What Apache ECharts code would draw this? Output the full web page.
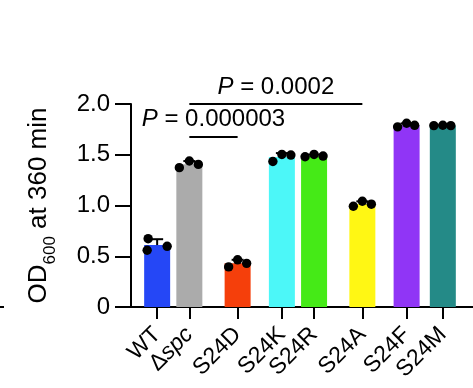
<!DOCTYPE html>
<html><head><meta charset="utf-8">
<script src="https://cdn.jsdelivr.net/npm/echarts@6/dist/echarts.min.js"></script>
<style>html,body{margin:0;padding:0;background:#fff}#c{width:473px;height:388px}</style>
</head><body><div id="c"></div>
<script>
// ---- data ----
const categories = ['WT', 'Δspc', 'S24D', 'S24K', 'S24R', 'S24A', 'S24F', 'S24M'];
const rep1 = [0.673, 1.373, 0.395, 1.434, 1.480, 0.993, 1.775, 1.787];
const rep2 = [0.559, 1.438, 0.465, 1.503, 1.503, 1.042, 1.810, 1.791];
const rep3 = [0.598, 1.405, 0.430, 1.497, 1.487, 1.013, 1.790, 1.787];
const yTicks = [0, 0.5, 1.0, 1.5, 2.0];
const compFrom = ['Δspc', 'Δspc'];
const compTo = ['S24A', 'S24D'];
const compY = [2.0, 1.68];
const compP = ['0.0002', '0.000003'];

// ---- styles / layout ----
const barColors = ['#2547F6', '#ABABAB', '#F53F0B', '#4CF7F8', '#45EA17', '#FFF714', '#9035F6', '#248A87'];
const SLOT_COUNT = 85;
const SLOTS = [6, 14, 26, 37, 45, 57, 68, 77];
const DOT_DX = [[-9, -10, 10], [-10, 0, 9], [-9, 0, 9], [-9, 0, 9], [-9, 0, 9], [-9, 0, 9], [-9, 0, 8], [-9, 0, 8]];
const FONT = 'Liberation Sans, Arial, Helvetica, sans-serif';

const reps = categories.map((_, i) => [rep1[i], rep2[i], rep3[i]]);
const means = reps.map(r => r.reduce((a, b) => a + b, 0) / r.length);
const sds = reps.map((r, i) => Math.sqrt(r.reduce((a, b) => a + (b - means[i]) ** 2, 0) / (r.length - 1)));

const slotNames = [];
for (let k = 0; k < SLOT_COUNT; k++) slotNames.push('gap' + k);
SLOTS.forEach((s, i) => { slotNames[s] = categories[i]; });
const isReal = new Set(categories);
const evenSet = new Set(categories.filter((_, i) => i % 2 === 0));
const oddSet = new Set(categories.filter((_, i) => i % 2 === 1));

const barData = slotNames.map(() => '-');
SLOTS.forEach((s, i) => { barData[s] = { value: means[i], itemStyle: { color: barColors[i] } }; });

const customData = categories.map((_, i) => [SLOTS[i], means[i], sds[i], rep1[i], rep2[i], rep3[i]]);

function labelCfg(set) {
  return {
    show: true,
    interval: (idx, val) => set.has(val),
    hideOverlap: false, showMinLabel: true, showMaxLabel: true,
    rotate: 45, margin: 24, color: '#000', fontSize: 23, fontFamily: FONT,
    formatter: v => !set.has(v) ? '' : (v === 'Δspc' ? 'Δ{i|spc}' : v),
    rich: { i: { fontStyle: 'italic', fontSize: 23, color: '#000', fontFamily: FONT } }
  };
}

const chart = echarts.init(document.getElementById('c'), null, { renderer: 'canvas' });
chart.setOption({
  animation: false,
  backgroundColor: '#fff',
  textStyle: { fontFamily: FONT },
  grid: { left: 131, right: 0, top: 104, bottom: 81, outerBoundsMode: 'none', containLabel: false },
  xAxis: [
    {
      type: 'category', position: 'bottom',
      data: slotNames,
      boundaryGap: true,
      axisLine: { lineStyle: { color: '#000', width: 2 } },
      axisTick: { show: true, length: 12, alignWithLabel: true, lineStyle: { color: '#000', width: 2 },
        interval: (idx, val) => isReal.has(val) },
      axisLabel: labelCfg(evenSet),
      splitLine: { show: false }
    },
    {
      type: 'category', position: 'bottom', offset: 0,
      data: slotNames,
      boundaryGap: true,
      axisLine: { show: false },
      axisTick: { show: false },
      axisLabel: labelCfg(oddSet),
      splitLine: { show: false }
    }
  ],
  yAxis: {
    type: 'value',
    min: yTicks[0], max: yTicks[yTicks.length - 1], interval: yTicks[1] - yTicks[0],
    axisLine: { show: true, lineStyle: { color: '#000', width: 2 } },
    axisTick: { show: true, length: 16, lineStyle: { color: '#000', width: 2 } },
    axisLabel: { margin: 21, color: '#000', fontSize: 24, fontFamily: FONT, hideOverlap: false,
      formatter: v => v === 0 ? '0' : v.toFixed(1) },
    splitLine: { show: false },
    name: '{a|OD}{s|600}{a| at 360 min}',
    nameLocation: 'middle', nameRotate: 90, nameGap: 72,
    nameTextStyle: {
      rich: {
        a: { fontSize: 26, color: '#000', fontFamily: FONT, verticalAlign: 'bottom', padding: [0, 0, 7, 0] },
        s: { fontSize: 17, color: '#000', fontFamily: FONT, verticalAlign: 'bottom' }
      }
    }
  },
  graphic: [{ type: 'rect', shape: { x: 0, y: 306, width: 4, height: 2 }, style: { fill: '#000' } }],
  series: [
    {
      type: 'bar', data: barData, barWidth: 26, xAxisIndex: 0,
      markLine: {
        silent: true, symbol: 'none', animation: false,
        lineStyle: { color: '#000', width: 2, type: 'solid' },
        label: { show: true, position: 'middle', distance: 5, color: '#000', fontSize: 24, fontFamily: FONT,
          rich: { i: { fontStyle: 'italic', fontSize: 24, color: '#000', fontFamily: FONT } } },
        data: compP.map((p, k) => [
          { coord: [compFrom[k], compY[k]], label: { formatter: '{i|P} = ' + p } },
          { coord: [compTo[k], compY[k]] }
        ])
      }
    },
    {
      type: 'custom', xAxisIndex: 0,
      data: customData,
      encode: { x: 0, y: 1 },
      z: 5,
      renderItem: (params, api) => {
        const i = params.dataIndex;
        const slot = api.value(0), mean = api.value(1), sd = api.value(2);
        const base = api.coord([slot, mean]);
        const top = api.coord([slot, mean + sd]);
        const children = [
          { type: 'line', shape: { x1: base[0], y1: base[1], x2: top[0], y2: top[1] }, style: { stroke: '#000', lineWidth: 2 } },
          { type: 'line', shape: { x1: top[0] - 6, y1: top[1], x2: top[0] + 6, y2: top[1] }, style: { stroke: '#000', lineWidth: 2 } }
        ];
        for (let r = 0; r < 3; r++) {
          const p = api.coord([slot, api.value(3 + r)]);
          children.push({ type: 'circle', shape: { cx: p[0] + DOT_DX[i][r], cy: p[1], r: 4.7 }, style: { fill: '#000' } });
        }
        return { type: 'group', children };
      }
    }
  ]
});
</script>
</body></html>
